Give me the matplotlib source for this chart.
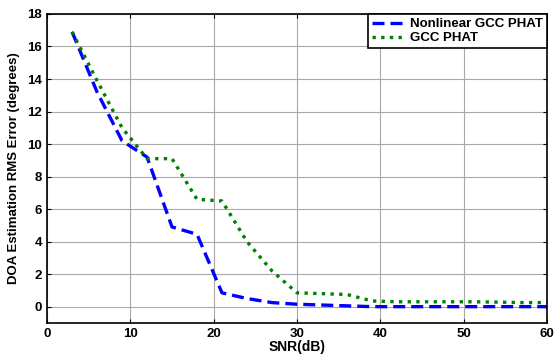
import numpy as np
import matplotlib
matplotlib.use('Agg')
import matplotlib.pyplot as plt

snr = [3, 6, 9, 12, 15, 18, 21, 24, 27, 30, 33, 36, 39, 42, 45, 48, 51, 54, 57, 60]
nonlinear = [16.9, 13.2, 10.2, 9.2, 4.9, 4.45, 0.85, 0.5, 0.25, 0.15, 0.1, 0.05, 0.0,
             0.0, 0.0, 0.0, 0.0, 0.0, 0.0, 0.0]
gcc = [16.9, 13.9, 11.0, 9.1, 9.1, 6.6, 6.5, 4.0, 2.2, 0.85, 0.8, 0.75, 0.35,
       0.3, 0.3, 0.3, 0.3, 0.28, 0.25, 0.25]

plt.rcParams['font.family'] = 'Liberation Sans'
plt.rcParams['font.weight'] = 'bold'

fig = plt.figure(figsize=(5.54, 3.58), dpi=100)
ax = fig.add_axes([0.085, 0.098, 0.902, 0.863])

ax.plot(snr, nonlinear, color='#0000ff', lw=2.4, ls=(0, (3.6, 1.8)), label='Nonlinear GCC PHAT')
ax.plot(snr, gcc, color='#008000', lw=2.4, ls=(0, (1.0, 1.6)), label='GCC PHAT')

ax.set_xlim(0, 60)
ax.set_ylim(-1, 18)
ax.set_xticks(np.arange(0, 61, 10))
ax.set_yticks(np.arange(0, 19, 2))
ax.grid(True, color='#a8a8a8', lw=0.8)
ax.tick_params(direction='in', top=True, right=True, labelsize=9.5, length=3)
for lab in ax.get_xticklabels() + ax.get_yticklabels():
    lab.set_fontweight('bold')
for s in ax.spines.values():
    s.set_linewidth(1.2)

ax.set_xlabel('SNR(dB)', fontsize=10, fontweight='bold', labelpad=0)
ax.set_ylabel('DOA Estimation RMS Error (degrees)', fontsize=9.5, fontweight='bold', labelpad=5)

leg = ax.legend(loc='upper right', fontsize=9.5, fancybox=False, framealpha=1,
                edgecolor='black', borderaxespad=0, handlelength=2.6,
                handletextpad=0.3, borderpad=0.3, labelspacing=0.15)
leg.get_frame().set_linewidth(1.2)

fig.savefig('out.png', dpi=100)
